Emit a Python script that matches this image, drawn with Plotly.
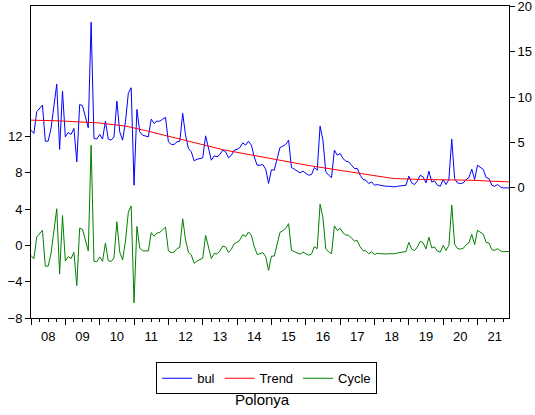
import plotly.graph_objects as go

# ---- data (monthly, 2008M01 - 2021M12) ----
start_year = 2008
years = list(range(2008, 2022))
year_labels = [f"{y % 100:02d}" for y in years]

bul = [
    6.37, 6.00, 8.39, 8.83, 9.13, 5.15, 5.15, 6.56, 9.13, 11.45, 4.24, 10.67,
    5.63, 6.11, 5.89, 6.56, 2.87, 9.20, 9.05, 7.66, 6.63, 18.26, 5.45, 5.38,
    5.89, 5.38, 7.36, 5.38, 5.26, 5.63, 9.57, 6.18, 5.26, 7.28, 10.42, 11.04,
    0.30, 8.65, 6.18, 5.81, 5.74, 5.63, 7.58, 7.10, 7.36, 7.36, 7.58, 7.77,
    5.08, 4.79, 4.79, 5.08, 5.15, 8.21, 5.81, 4.35, 3.98, 2.98, 3.16, 3.24,
    3.31, 5.74, 4.53, 3.05, 3.53, 3.42, 3.68, 4.16, 3.98, 3.31, 3.60, 4.16,
    4.24, 4.46, 4.97, 4.71, 5.15, 4.71, 3.42, 2.50, 2.50, 2.58, 2.06, 0.49,
    2.00, 1.95, 3.24, 4.46, 4.60, 4.79, 5.26, 2.25, 2.06, 1.84, 1.66, 1.84,
    1.58, 1.40, 1.47, 2.25, 1.95, 6.81, 5.26, 1.77, 1.40, 1.14, 4.16, 3.61,
    3.79, 3.24, 2.95, 2.87, 2.50, 2.14, 2.14, 1.40, 0.93, 0.85, 0.48, 0.66,
    0.29, 0.37, 0.29, 0.22, 0.18, 0.18, 0.11, 0.11, 0.18, 0.22, 0.18, 0.29,
    1.29, 0.55, 0.37, 0.77, 1.40, 1.21, 0.55, 1.84, 0.66, 0.77, 0.29, 0.18,
    0.92, 0.37, 0.92, 5.37, 1.03, 0.55, 0.48, 0.55, 0.92, 1.14, 2.06, 0.92,
    2.50, 2.25, 2.03, 1.14, 1.03, 0.29, 0.18, 0.37, 0.11, 0.00, 0.00, 0.00,
]

trend = [
    7.47, 7.47, 7.46, 7.46, 7.45, 7.44, 7.43, 7.42, 7.41, 7.40, 7.39, 7.37,
    7.36, 7.35, 7.33, 7.32, 7.30, 7.29, 7.27, 7.25, 7.23, 7.21, 7.19, 7.17,
    7.15, 7.12, 7.09, 7.06, 7.03, 6.99, 6.95, 6.91, 6.86, 6.81, 6.75, 6.69,
    6.62, 6.55, 6.48, 6.40, 6.32, 6.24, 6.16, 6.08, 6.00, 5.92, 5.84, 5.75,
    5.67, 5.59, 5.51, 5.43, 5.35, 5.27, 5.19, 5.11, 5.03, 4.95, 4.87, 4.79,
    4.71, 4.63, 4.56, 4.49, 4.42, 4.35, 4.28, 4.22, 4.15, 4.09, 4.02, 3.96,
    3.90, 3.84, 3.78, 3.72, 3.66, 3.60, 3.54, 3.48, 3.42, 3.36, 3.30, 3.24,
    3.18, 3.12, 3.07, 3.01, 2.96, 2.90, 2.85, 2.79, 2.74, 2.68, 2.63, 2.57,
    2.52, 2.47, 2.42, 2.37, 2.31, 2.26, 2.21, 2.16, 2.10, 2.05, 2.00, 1.95,
    1.90, 1.85, 1.80, 1.75, 1.70, 1.65, 1.60, 1.55, 1.50, 1.45, 1.40, 1.35,
    1.29, 1.24, 1.20, 1.16, 1.12, 1.09, 1.06, 1.03, 1.01, 0.99, 0.97, 0.96,
    0.95, 0.94, 0.94, 0.94, 0.93, 0.93, 0.93, 0.93, 0.93, 0.93, 0.92, 0.92,
    0.92, 0.92, 0.91, 0.91, 0.90, 0.89, 0.88, 0.87, 0.86, 0.85, 0.84, 0.83,
    0.82, 0.81, 0.79, 0.78, 0.76, 0.75, 0.73, 0.72, 0.70, 0.69, 0.67, 0.66,
]

cycle = [
    -1.10, -1.47, 0.93, 1.37, 1.68, -2.29, -2.28, -0.86, 1.72, 4.05, -3.15, 3.30,
    -1.73, -1.24, -1.44, -0.76, -4.43, 1.91, 1.78, 0.41, -0.60, 11.05, -1.74, -1.79,
    -1.26, -1.74, 0.27, -1.68, -1.77, -1.36, 2.62, -0.73, -1.60, 0.47, 3.67, 4.35,
    -6.32, 2.10, -0.30, -0.59, -0.58, -0.61, 1.42, 1.02, 1.36, 1.44, 1.74, 2.02,
    -0.59, -0.80, -0.72, -0.35, -0.20, 2.94, 0.62, -0.76, -1.05, -1.97, -1.71, -1.55,
    -1.40, 1.11, -0.03, -1.44, -0.89, -0.93, -0.60, -0.06, -0.17, -0.78, -0.42, 0.20,
    0.34, 0.62, 1.19, 0.99, 1.49, 1.11, -0.12, -0.98, -0.92, -0.78, -1.24, -2.75,
    -1.18, -1.17, 0.17, 1.45, 1.64, 1.89, 2.41, -0.54, -0.68, -0.84, -0.97, -0.73,
    -0.94, -1.07, -0.95, -0.12, -0.36, 4.55, 3.05, -0.39, -0.70, -0.91, 2.16, 1.66,
    1.89, 1.39, 1.15, 1.12, 0.80, 0.49, 0.54, -0.15, -0.57, -0.60, -0.92, -0.69,
    -1.00, -0.87, -0.91, -0.94, -0.94, -0.91, -0.95, -0.92, -0.83, -0.77, -0.79, -0.67,
    0.34, -0.39, -0.57, -0.17, 0.47, 0.28, -0.38, 0.91, -0.27, -0.16, -0.63, -0.74,
    0.00, -0.55, 0.01, 4.46, 0.13, -0.34, -0.40, -0.32, 0.06, 0.29, 1.22, 0.09,
    1.68, 1.44, 1.24, 0.36, 0.27, -0.46, -0.55, -0.35, -0.59, -0.69, -0.67, -0.66,
]

left_ticks = [-8, -4, 0, 4, 8, 12]
right_ticks = [0, 5, 10, 15, 20]

# ---- figure ----
x = [start_year + i / 12 for i in range(len(bul))]
x_range = [x[0], x[-1]]

FONT = "Arial, 'Liberation Sans', sans-serif"

fig = go.Figure()
fig.add_trace(go.Scatter(x=x, y=bul, name="bul", mode="lines",
                         line=dict(color="#0000FF", width=1),
                         xaxis="x2", yaxis="y2", legendrank=1))
fig.add_trace(go.Scatter(x=x, y=trend, name="Trend", mode="lines",
                         line=dict(color="#FF0000", width=1),
                         xaxis="x2", yaxis="y2", legendrank=2))
fig.add_trace(go.Scatter(x=x, y=cycle, name="Cycle", mode="lines",
                         line=dict(color="#008000", width=1),
                         xaxis="x", yaxis="y", legendrank=3))

quarters = [y + q / 4 for y in years for q in (1, 2, 3)]

fig.update_layout(
    template="none",
    width=535, height=415,
    margin=dict(l=31, r=25.5, t=6, b=97, pad=0),
    paper_bgcolor="white", plot_bgcolor="white",
    font=dict(family=FONT, color="black", size=12.5),
    showlegend=True,
    xaxis=dict(
        domain=[0, 1], range=x_range, anchor="y",
        tickmode="array", tickvals=years, ticktext=[""] * len(years),
        ticks="outside", ticklen=6, tickwidth=1, tickcolor="black",
        showline=True, linecolor="black", linewidth=1, mirror=True,
        showgrid=False, zeroline=False, automargin=False,
        minor=dict(tickmode="array", tickvals=quarters, ticks="outside",
                   ticklen=3, tickwidth=1, tickcolor="black", showgrid=False),
    ),
    xaxis2=dict(
        overlaying="x", anchor="y", side="bottom", range=x_range,
        tickmode="array", tickvals=[y + 0.5 for y in years], ticktext=year_labels,
        ticks="outside", ticklen=6, tickcolor="rgba(0,0,0,0)",
        showline=False, showgrid=False, zeroline=False, automargin=False,
        tickfont=dict(size=13),
    ),
    yaxis=dict(
        domain=[0, 1], range=[-8, 26.41], anchor="x",
        tickmode="array", tickvals=left_ticks,
        ticks="outside", ticklen=5, tickwidth=1, tickcolor="black",
        showline=True, linecolor="black", linewidth=1, mirror=True,
        showgrid=False, zeroline=False, automargin=False,
        tickfont=dict(size=13),
    ),
    yaxis2=dict(
        overlaying="y", side="right", anchor="x2", range=[-14.34, 20.05],
        tickmode="array", tickvals=right_ticks,
        ticks="outside", ticklen=5, tickwidth=1, tickcolor="black",
        showline=False, showgrid=False, zeroline=False, automargin=False,
        tickfont=dict(size=13), ticklabeloverflow="allow",
    ),
    legend=dict(
        orientation="h", x=0.493, xanchor="center", y=-0.142, yanchor="top",
        bordercolor="black", borderwidth=1, bgcolor="white",
        font=dict(size=13), traceorder="normal",
    ),
    annotations=[dict(
        text="Polonya", x=0.485, y=-0.262, xref="paper", yref="paper",
        xanchor="center", yanchor="middle", showarrow=False,
        font=dict(size=15),
    )],
)

fig.write_html("out.html")
